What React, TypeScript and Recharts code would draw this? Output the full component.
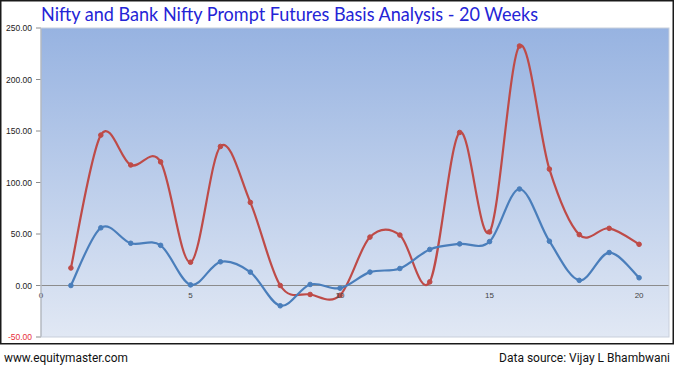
import React from 'react';
import { LineChart, Line, XAxis, YAxis, CartesianGrid, ReferenceLine, ReferenceDot } from 'recharts';

const weeks = [1, 2, 3, 4, 5, 6, 7, 8, 9, 10, 11, 12, 13, 14, 15, 16, 17, 18, 19, 20];
const nifty = [0, 56, 41, 39, 0.6, 23, 13, -19.7, 1, -2.6, 13, 16.5, 35, 40.4, 42.6, 93.7, 43, 5, 32, 7.5];
const bankNifty = [17, 146, 117, 120, 22.6, 135, 80.7, 0, -8.7, -9.5, 47, 49, 3.5, 148.6, 52, 232.5, 113, 49.4, 55.5, 40];
const xTicks = [0, 5, 10, 15, 20];
const yTicks = [-50, 0, 50, 100, 150, 200, 250];

const title = 'Nifty and Bank Nifty Prompt Futures Basis Analysis - 20 Weeks';
const siteText = 'www.equitymaster.com';
const sourceText = 'Data source: Vijay L Bhambwani';

const data = weeks.map((w, i) => ({ week: w, nifty: nifty[i], bank: bankNifty[i] }));

// Excel-like smoothed line (Catmull-Rom style Bezier)
const smoothCurve = (context: any) => {
  let pts: number[][] = [];
  return {
    areaStart() {},
    areaEnd() {},
    lineStart() {
      pts = [];
    },
    point(x: number, y: number) {
      pts.push([+x, +y]);
    },
    lineEnd() {
      const n = pts.length;
      if (!n) return;
      context.moveTo(pts[0][0], pts[0][1]);
      for (let i = 0; i < n - 1; i++) {
        const p0 = pts[i - 1] || pts[i];
        const p1 = pts[i];
        const p2 = pts[i + 1];
        const p3 = pts[i + 2] || p2;
        context.bezierCurveTo(
          p1[0] + (p2[0] - p0[0]) / 6,
          p1[1] + (p2[1] - p0[1]) / 6,
          p2[0] - (p3[0] - p1[0]) / 6,
          p2[1] - (p3[1] - p1[1]) / 6,
          p2[0],
          p2[1]
        );
      }
    },
  };
};

const YTick = (props: any) => {
  const { x, y, payload } = props;
  const v = payload.value;
  return (
    <text x={x} y={y} dy={3} textAnchor="end" fontSize={8.5} fontFamily="Liberation Sans, Arial, sans-serif" fill={v < 0 ? '#e8303a' : '#222'}>
      {v.toFixed(2)}
    </text>
  );
};

const BLUE = '#4a7ebb';
const RED = '#be4b48';

export default function App() {
  return (
    <div style={{ position: 'absolute', left: 0, top: 0, width: 675, height: 368, background: '#fff' }}>
      <LineChart width={675} height={368} data={data} margin={{ top: 28, right: 6, bottom: 31, left: 0 }}>
        <defs>
          <linearGradient id="bgGrad" x1="0" y1="0" x2="0" y2="1">
            <stop offset="0%" stopColor="#97b3e1" />
            <stop offset="100%" stopColor="#e1e8f4" />
          </linearGradient>
        </defs>
        <CartesianGrid fill="url(#bgGrad)" stroke="none" horizontal={false} vertical={false} />
        <XAxis dataKey="week" type="number" domain={[0, 21]} ticks={xTicks} hide />
        <YAxis
          type="number"
          domain={[-50, 250]}
          ticks={yTicks}
          width={41}
          tickSize={5}
          tickMargin={4}
          axisLine={{ stroke: '#8c8c8c' }}
          tickLine={{ stroke: '#8c8c8c' }}
          tick={<YTick />}
          interval={0}
        />
        <ReferenceLine y={0} stroke="#8c8c8c" strokeWidth={1} />
        {xTicks.map((t) => (
          <ReferenceDot
            key={t}
            x={t}
            y={0}
            r={0}
            stroke="none"
            fill="none"
            label={{ value: String(t), position: 'bottom', offset: 7, fontSize: 8, fill: '#444', fontFamily: 'Liberation Sans, Arial, sans-serif' }}
          />
        ))}
        <Line
          dataKey="bank"
          type={smoothCurve as any}
          stroke={RED}
          strokeWidth={2.2}
          dot={{ r: 2.3, fill: RED, stroke: RED, strokeWidth: 1 }}
          isAnimationActive={false}
        />
        <Line
          dataKey="nifty"
          type={smoothCurve as any}
          stroke={BLUE}
          strokeWidth={2.2}
          dot={{ r: 2.3, fill: BLUE, stroke: BLUE, strokeWidth: 1 }}
          isAnimationActive={false}
        />
      </LineChart>
      <svg width={675} height={368} style={{ position: 'absolute', left: 0, top: 0, pointerEvents: 'none' }}>
        <rect x={0.75} y={0.75} width={672.5} height={343} fill="none" stroke="#1a1a1a" strokeWidth={1.5} />
        <rect x={41} y={28} width={628} height={309} fill="none" stroke="#c8cfdb" strokeWidth={1} />
        <text x={41} y={21} fontSize={20} fontFamily="Lato, sans-serif" fill="#2424d6" textLength={497} lengthAdjust="spacingAndGlyphs">
          {title}
        </text>
        <text x={4} y={362} fontSize={12} fontFamily="Roboto, sans-serif" fill="#111" textLength={124} lengthAdjust="spacingAndGlyphs">
          {siteText}
        </text>
        <text x={670} y={362} textAnchor="end" fontSize={12} fontFamily="Roboto, sans-serif" fill="#111">
          {sourceText}
        </text>
      </svg>
    </div>
  );
}
